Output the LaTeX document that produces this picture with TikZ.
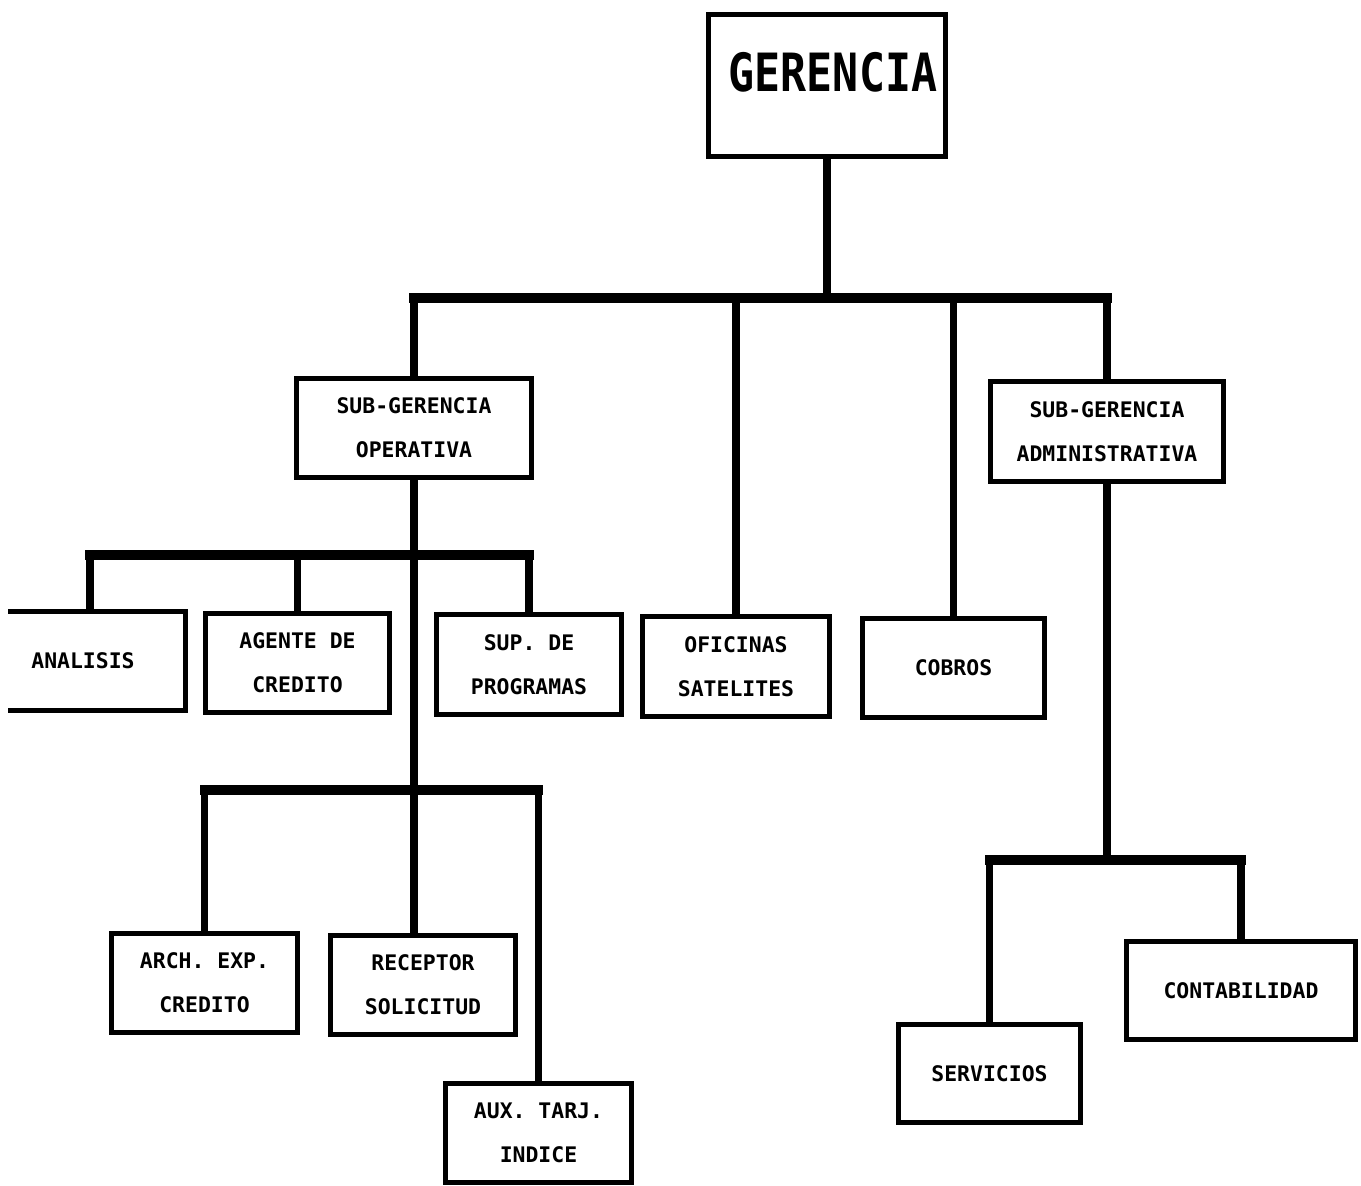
\documentclass[tikz,border=0pt]{standalone}
\usepackage{fontspec}
\setmonofont{DejaVu Sans Mono}

\tikzset{
  box/.style={draw, rectangle, inner sep=0pt, align=center,
    font=\ttfamily\bfseries\fontsize{6.1}{12.5}\selectfont},
  bus/.style={line width=2.8pt, line cap=rect},
  link/.style={line width=2pt}
}

\begin{document}
\begin{tikzpicture}[line width=1.4pt]
\useasboundingbox (0,0) rectangle (13.61,-11.86);
\clip (0.08,0.1) rectangle (13.7,-12);

% top
\node[box, minimum width=2.37cm, minimum height=1.42cm] (ger) at (8.27,-0.855) {};
\node[font=\ttfamily\bfseries\fontsize{15}{15}\selectfont] (gertxt) at (8.33,-0.72) {\scalebox{0.82}[1]{GERENCIA}};

% second level
\node[box, minimum width=2.35cm, minimum height=0.99cm] (sgo) at (4.14,-4.28) {SUB-GERENCIA\\OPERATIVA};
\node[box, minimum width=1.87cm, minimum height=1.00cm] (ofi) at (7.36,-6.665) {OFICINAS\\SATELITES};
\node[box, minimum width=1.82cm, minimum height=0.99cm] (cob) at (9.535,-6.68) {COBROS};
\node[box, minimum width=2.33cm, minimum height=1.00cm] (sga) at (11.07,-4.315) {SUB-GERENCIA\\ADMINISTRATIVA};

% under operativa
\node[box, minimum width=2.05cm, minimum height=0.99cm] (ana) at (0.83,-6.61) {ANALISIS};
\node[box, minimum width=1.84cm, minimum height=0.99cm] (age) at (2.975,-6.63) {AGENTE DE\\CREDITO};
\node[box, minimum width=1.85cm, minimum height=1.00cm] (sup) at (5.29,-6.645) {SUP. DE\\PROGRAMAS};
\node[box, minimum width=1.86cm, minimum height=0.99cm] (arc) at (2.045,-9.83) {ARCH. EXP.\\CREDITO};
\node[box, minimum width=1.85cm, minimum height=0.99cm] (rec) at (4.23,-9.85) {RECEPTOR\\SOLICITUD};
\node[box, minimum width=1.86cm, minimum height=0.99cm] (aux) at (5.385,-11.33) {AUX. TARJ.\\INDICE};

% under administrativa
\node[box, minimum width=1.82cm, minimum height=0.98cm] (ser) at (9.895,-10.735) {SERVICIOS};
\node[box, minimum width=2.29cm, minimum height=0.98cm] (con) at (12.41,-9.905) {CONTABILIDAD};

% bus lines
\coordinate (b1) at (8.27,-2.98);
\coordinate (b2) at (4.14,-5.55);
\coordinate (b3) at (4.14,-7.90);
\coordinate (b4) at (11.07,-8.60);
\coordinate (anatop) at ([xshift=0.07cm]ana.north);

\draw[link] (ger.south) -- (b1);
\draw[bus] (sgo.north |- b1) -- (sga.north |- b1);
\foreach \n in {sgo,ofi,cob,sga}
  \draw[link] (\n.north |- b1) -- (\n.north);

\draw[link] (sgo.south) -- (sgo.south |- rec.north);
\draw[bus] (anatop |- b2) -- (sup.north |- b2);
\foreach \n in {anatop,age.north,sup.north}
  \draw[link] (\n |- b2) -- (\n);
\draw[bus] (arc.north |- b3) -- (aux.north |- b3);
\foreach \n in {arc,aux}
  \draw[link] (\n.north |- b3) -- (\n.north);

\draw[link] (sga.south) -- (b4);
\draw[bus] (ser.north |- b4) -- (con.north |- b4);
\foreach \n in {ser,con}
  \draw[link] (\n.north |- b4) -- (\n.north);
\end{tikzpicture}
\end{document}
